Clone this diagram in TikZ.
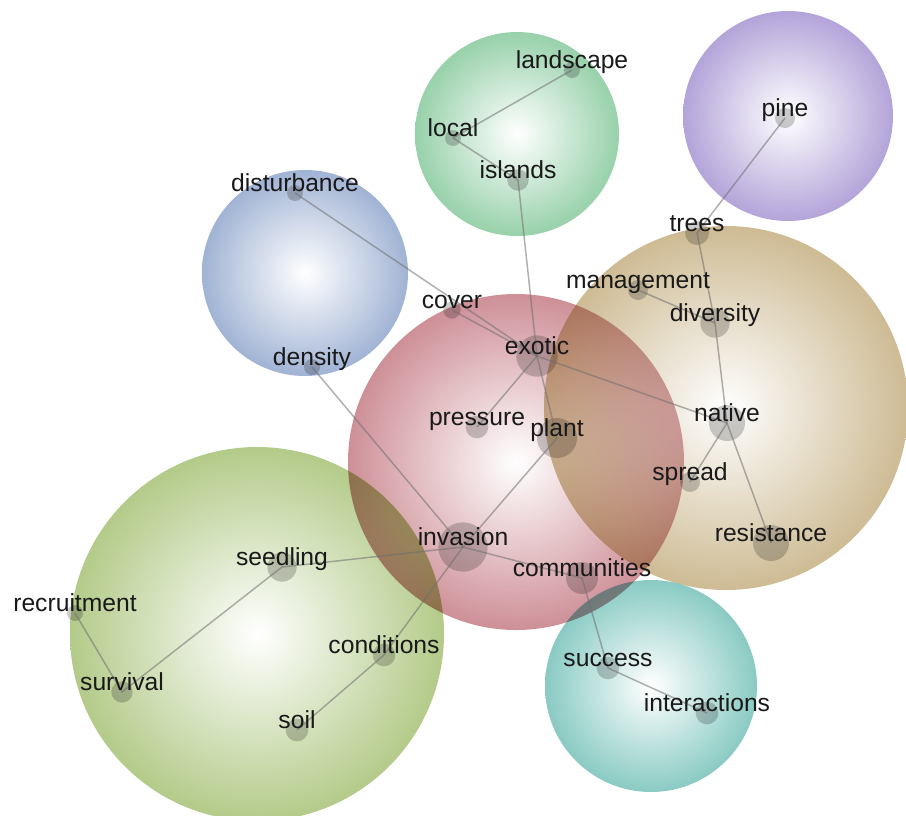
\documentclass[tikz,border=0pt]{standalone}
\usepackage{fontspec}
\setmainfont{Liberation Sans}
\definecolor{bubRed}{RGB}{192,112,122}
\definecolor{bubTan}{RGB}{192,168,118}
\definecolor{bubLeaf}{RGB}{158,188,104}
\definecolor{bubTeal}{RGB}{104,188,178}
\definecolor{bubBlue}{RGB}{134,158,200}
\definecolor{bubGreen}{RGB}{122,196,146}
\definecolor{bubPurple}{RGB}{158,138,206}

\begin{document}
\begin{tikzpicture}[x=0.75pt,y=0.75pt,yscale=-1,xscale=1,
  bubble/.style={inner color=white,outer color=#1,fill opacity=0.78},
  lens/.style={inner color=white,outer color=#1,blend mode=multiply,fill opacity=0.5},
  dot/.style={circle,inner sep=0pt,minimum size=#1,fill=black,fill opacity=0.2},
  link/.style={draw={rgb, 255:red, 110; green, 110; blue, 110},draw opacity=0.55,line width=1.1},
  word/.style={anchor=base,yshift=1.5pt,inner sep=0pt,font=\fontsize{18.5}{22}\selectfont,text={rgb, 255:red, 25; green, 25; blue, 25}}]
\useasboundingbox (0,0) rectangle (906,815);

%Shape: Circle
\shade [bubble=bubRed] (516,462) circle [radius=168];
%Shape: Circle
\shade [bubble=bubTan] (726,408) circle [radius=182];
%Shape: Circle
\shade [bubble=bubLeaf] (257,634) circle [radius=187];
%Shape: Circle
\shade [bubble=bubTeal] (651,686) circle [radius=106];
%Shape: Circle
\shade [bubble=bubBlue] (305,273) circle [radius=103];
%Shape: Circle
\shade [bubble=bubGreen] (517,134) circle [radius=102];
%Shape: Circle
\shade [bubble=bubPurple] (788,116) circle [radius=105];

% overlaps with the red circle
\begin{scope}
\clip (726,408) circle [radius=182];
\shade [lens=bubRed] (516,462) circle [radius=168];
\end{scope}
\begin{scope}
\clip (257,634) circle [radius=187];
\shade [lens=bubRed,fill opacity=0.65] (516,462) circle [radius=168];
\end{scope}
\begin{scope}
\clip (651,686) circle [radius=106];
\shade [lens=bubRed,fill opacity=0.6] (516,462) circle [radius=168];
\end{scope}

% Dots
\node [dot=12] (landscape) at (572,70) {};
\node [dot=12] (local) at (453,138) {};
\node [dot=16] (islands) at (518,180) {};
\node [dot=15] (pine) at (785,118) {};
\node [dot=12] (disturbance) at (295,193) {};
\node [dot=18] (trees) at (697,233) {};
\node [dot=15] (management) at (638,290) {};
\node [dot=22] (diversity) at (715,323) {};
\node [dot=13] (cover) at (452,310) {};
\node [dot=31] (exotic) at (537,356) {};
\node [dot=12] (density) at (312,367) {};
\node [dot=27] (native) at (727,423) {};
\node [dot=17] (pressure) at (477,427) {};
\node [dot=30] (plant) at (557,438) {};
\node [dot=15] (spread) at (690,482) {};
\node [dot=27] (resistance) at (771,543) {};
\node [dot=37] (invasion) at (463,547) {};
\node [dot=22] (seedling) at (282,567) {};
\node [dot=24] (communities) at (582,578) {};
\node [dot=12] (recruitment) at (75,613) {};
\node [dot=17] (conditions) at (384,655) {};
\node [dot=17] (success) at (608,668) {};
\node [dot=16] (survival) at (122,692) {};
\node [dot=17] (interactions) at (707,713) {};
\node [dot=17] (soil) at (297,730) {};

%Straight Lines
\draw [link] (landscape.center) -- (local.center);
\draw [link] (local.center) -- (islands.center);
\draw [link] (islands.center) -- (exotic.center);
\draw [link] (pine.center) -- (trees.center);
\draw [link] (trees.center) -- (diversity.center);
\draw [link] (management.center) -- (diversity.center);
\draw [link] (diversity.center) -- (native.center);
\draw [link] (disturbance.center) -- (exotic.center);
\draw [link] (cover.center) -- (exotic.center);
\draw [link] (exotic.center) -- (native.center);
\draw [link] (exotic.center) -- (pressure.center);
\draw [link] (exotic.center) -- (plant.center);
\draw [link] (native.center) -- (spread.center);
\draw [link] (native.center) -- (resistance.center);
\draw [link] (density.center) -- (invasion.center);
\draw [link] (plant.center) -- (invasion.center);
\draw [link] (invasion.center) -- (conditions.center);
\draw [link] (conditions.center) -- (soil.center);
\draw [link] (seedling.center) -- (invasion.center);
\draw [link] (invasion.center) -- (communities.center);
\draw [link] (communities.center) -- (success.center);
\draw [link] (success.center) -- (interactions.center);
\draw [link] (seedling.center) -- (survival.center);
\draw [link] (recruitment.center) -- (survival.center);

% Text Node
\node [word] (t-landscape) at (landscape) {landscape};
\node [word] (t-local) at (local) {local};
\node [word] (t-islands) at (islands) {islands};
\node [word] (t-pine) at (pine) {pine};
\node [word] (t-disturbance) at (disturbance) {disturbance};
\node [word] (t-trees) at (trees) {trees};
\node [word] (t-management) at (management) {management};
\node [word] (t-diversity) at (diversity) {diversity};
\node [word] (t-cover) at (cover) {cover};
\node [word] (t-exotic) at (exotic) {exotic};
\node [word] (t-density) at (density) {density};
\node [word] (t-native) at (native) {native};
\node [word] (t-pressure) at (pressure) {pressure};
\node [word] (t-plant) at (plant) {plant};
\node [word] (t-spread) at (spread) {spread};
\node [word] (t-resistance) at (resistance) {resistance};
\node [word] (t-invasion) at (invasion) {invasion};
\node [word] (t-seedling) at (seedling) {seedling};
\node [word] (t-communities) at (communities) {communities};
\node [word] (t-recruitment) at (recruitment) {recruitment};
\node [word] (t-conditions) at (conditions) {conditions};
\node [word] (t-success) at (success) {success};
\node [word] (t-survival) at (survival) {survival};
\node [word] (t-interactions) at (interactions) {interactions};
\node [word] (t-soil) at (soil) {soil};

\end{tikzpicture}
\end{document}
